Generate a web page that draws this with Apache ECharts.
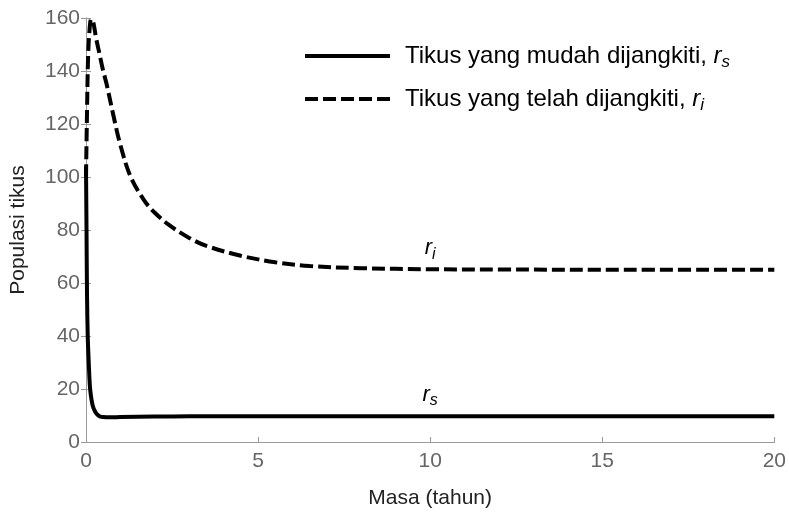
<!DOCTYPE html>
<html>
<head>
<meta charset="utf-8">
<script src="https://cdn.jsdelivr.net/npm/echarts@6/dist/echarts.min.js"></script>
<style>
  html, body { margin: 0; padding: 0; background: #fff; }
  #chart { width: 789px; height: 514px; }
</style>
</head>
<body>
<div id="chart"></div>
<script>
// ---- data ----
var tRs    = [0, 0.015, 0.03, 0.05, 0.07, 0.1, 0.12, 0.16, 0.2, 0.26, 0.33, 0.4, 0.5, 0.7, 1, 2, 3, 5, 10, 15, 20];
var rsVals = [104, 80, 55, 40, 33, 24, 20, 16, 13.5, 11.6, 10.3, 9.7, 9.4, 9.3, 9.4, 9.6, 9.7, 9.7, 9.7, 9.7, 9.7];
var tRi    = [0, 0.03, 0.06, 0.1, 0.15, 0.2, 0.3, 0.4, 0.5, 0.6, 0.8, 1.0, 1.3, 1.7, 2.0, 2.4, 3.0, 3.5, 4.5, 5.5, 6.5, 8, 10, 12, 15, 20];
var riVals = [100, 125, 145, 155, 159.5, 159, 152, 146, 140, 135, 123, 112, 100, 91, 86.5, 82, 77, 74, 70.3, 67.8, 66.4, 65.6, 65.2, 65.1, 65, 65];
var xTicks = [0, 5, 10, 15, 20];
var yTicks = [0, 20, 40, 60, 80, 100, 120, 140, 160];
var seriesNames = ['Tikus yang mudah dijangkiti, ', 'Tikus yang telah dijangkiti, '];
var seriesSubs = ['s', 'i'];
var labelAt = 10;

function zip(a, b) { return a.map(function (v, i) { return [v, b[i]]; }); }

var FONT = '"Liberation Sans", Arial, sans-serif';
var axisGray = '#9a9a9a';
var labelGray = '#666666';

// legend icons: solid bar and five dashes (drawn as a path, so no symbol dot)
var solidIcon = 'path://M0,0H85V4H0Z';
var dashIcon = 'path://M0,0H13V4H0Z M18,0H31V4H18Z M36,0H49V4H36Z M54,0H67V4H54Z M72,0H85V4H72Z';

var chart = echarts.init(document.getElementById('chart'), null, { renderer: 'canvas' });

function frameAxis(extra) {
  return Object.assign({
    type: 'value',
    axisLine: { show: true, lineStyle: { color: axisGray, width: 1 } },
    axisTick: { show: true, inside: true, length: 5, lineStyle: { color: axisGray, width: 1 } },
    splitLine: { show: false },
    axisLabel: { show: false }
  }, extra);
}

var richR = {
  r: { fontSize: 22, color: '#000', fontFamily: FONT, fontStyle: 'italic', lineHeight: 28, verticalAlign: 'middle' },
  s: { fontSize: 16, color: '#000', fontFamily: FONT, fontStyle: 'italic', lineHeight: 28, verticalAlign: 'bottom' }
};

var option = {
  animation: false,
  backgroundColor: '#ffffff',
  textStyle: { fontFamily: FONT },
  grid: { left: 86, right: 13, top: 18, bottom: 70, containLabel: false },
  legend: {
    orient: 'vertical',
    left: 300,
    top: 39,
    itemWidth: 85,
    itemHeight: 4,
    itemGap: 16,
    selectedMode: false,
    itemStyle: { color: '#000', borderWidth: 0 },
    data: [
      { name: seriesNames[0], icon: solidIcon },
      { name: seriesNames[1], icon: dashIcon }
    ],
    formatter: function (name) {
      var i = seriesNames.indexOf(name);
      return '{n|' + name + '}{r|r}{s|' + seriesSubs[i] + '}';
    },
    textStyle: {
      padding: [0, 0, 0, 10],
      rich: {
        n: { fontSize: 24, color: '#000', fontFamily: FONT, lineHeight: 30, verticalAlign: 'middle' },
        r: { fontSize: 24, color: '#000', fontFamily: FONT, fontStyle: 'italic', lineHeight: 30, verticalAlign: 'middle' },
        s: { fontSize: 17, color: '#000', fontFamily: FONT, fontStyle: 'italic', lineHeight: 30, verticalAlign: 'bottom' }
      }
    }
  },
  xAxis: [
    frameAxis({
      min: 0, max: 20, interval: 5, position: 'bottom',
      name: 'Masa (tahun)', nameLocation: 'middle', nameGap: 46,
      nameTextStyle: { fontSize: 21, color: '#222', fontFamily: FONT },
      axisLabel: { show: true, color: labelGray, fontSize: 21, margin: 9, fontFamily: FONT,
        customValues: xTicks }
    }),
    frameAxis({ min: 0, max: 20, interval: 5, position: 'top', axisTick: { show: false } })
  ],
  yAxis: [
    frameAxis({
      min: 0, max: 160, interval: 20, position: 'left',
      name: 'Populasi tikus', nameLocation: 'middle', nameGap: 57,
      nameTextStyle: { fontSize: 21, color: '#222', fontFamily: FONT },
      axisLabel: { show: true, color: labelGray, fontSize: 21, margin: 6, fontFamily: FONT,
        customValues: yTicks }
    }),
    frameAxis({ min: 0, max: 160, interval: 20, position: 'right' })
  ],
  series: [
    {
      name: seriesNames[0],
      type: 'line',
      xAxisIndex: 0, yAxisIndex: 0,
      data: zip(tRs, rsVals),
      smooth: 0.35,
      showSymbol: false, symbol: 'none',
      clip: false,
      lineStyle: { color: '#000', width: 4, type: 'solid' },
      itemStyle: { color: '#000' },
      markPoint: {
        symbol: 'circle', symbolSize: 1,
        itemStyle: { color: 'rgba(0,0,0,0)' },
        label: { show: true, position: 'top', distance: 7, formatter: '{r|r}{s|s}', rich: richR },
        data: [{ coord: [labelAt, rsVals[rsVals.length - 1]] }]
      }
    },
    {
      name: seriesNames[1],
      type: 'line',
      xAxisIndex: 0, yAxisIndex: 0,
      data: zip(tRi, riVals),
      smooth: 0.35,
      showSymbol: false, symbol: 'none',
      clip: false,
      lineStyle: { color: '#000', width: 4, type: [13, 5] },
      itemStyle: { color: '#000' },
      markPoint: {
        symbol: 'circle', symbolSize: 1,
        itemStyle: { color: 'rgba(0,0,0,0)' },
        label: { show: true, position: 'top', distance: 7, formatter: '{r|r}{s|i}', rich: richR },
        data: [{ coord: [labelAt, riVals[riVals.length - 1]] }]
      }
    }
  ]
};

chart.setOption(option);
</script>
</body>
</html>
